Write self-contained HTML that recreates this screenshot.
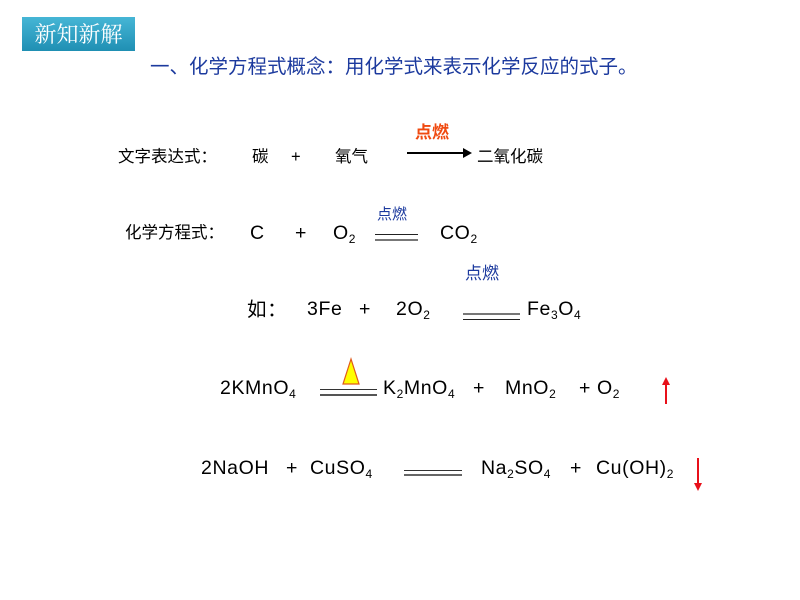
<!DOCTYPE html>
<html><head><meta charset="utf-8"><style>
body{margin:0;width:800px;height:600px;background:#fff;position:relative;overflow:hidden;font-family:"Liberation Sans","Noto Sans CJK SC",sans-serif;color:#000}
.a{position:absolute;white-space:nowrap;line-height:20px}
.f{font-size:19.5px;letter-spacing:0.6px}
.s{font-size:16.5px}
.c{font-family:"Noto Sans CJK SC",sans-serif}
sub{font-size:12px;vertical-align:-4px;line-height:0}
.dl{position:absolute;box-sizing:content-box}
</style></head><body>
<div class="a" style="left:22px;top:17px;width:113px;height:34px;line-height:34px;background:linear-gradient(#46b6d6,#1f8fb3);color:#fff;font-size:22px;font-family:'Noto Serif CJK SC',serif;text-align:center">新知新解</div>
<div class="a c" style="left:150px;top:55px;font-size:19.5px;color:#1c3a9e">一、化学方程式概念：用化学式来表示化学反应的式子。</div>

<div class="a s c" style="left:118px;top:145px">文字表达式：</div>
<div class="a s" style="left:252px;top:147px">碳</div>
<div class="a s" style="left:291px;top:147px">+</div>
<div class="a s" style="left:335px;top:147px">氧气</div>
<div class="a" style="left:415px;top:123px;font-size:17px;font-weight:bold;color:#f04a10">点燃</div>
<div style="position:absolute;left:407px;top:152px;width:58px;height:2px;background:#000"></div>
<div style="position:absolute;left:463px;top:148px;width:0;height:0;border-left:9px solid #000;border-top:5px solid transparent;border-bottom:5px solid transparent"></div>
<div class="a s" style="left:477px;top:147px">二氧化碳</div>

<div class="a s c" style="left:125px;top:221px">化学方程式：</div>
<div class="a f" style="left:250px;top:223px">C</div>
<div class="a f" style="left:295px;top:223px">+</div>
<div class="a f" style="left:333px;top:223px">O<sub>2</sub></div>
<div class="a" style="left:377px;top:205px;font-size:15px;color:#1c3a9e">点燃</div>
<div class="dl" style="left:375px;top:234px;width:43px;height:4px;border-top:1px solid #222;border-bottom:2px solid #777"></div>
<div class="a f" style="left:440px;top:223px">CO<sub>2</sub></div>

<div class="a" style="left:465px;top:264px;font-size:17px;color:#1c3a9e">点燃</div>
<div class="a f c" style="left:247px;top:298px">如：</div>
<div class="a f" style="left:307px;top:299px">3Fe</div>
<div class="a f" style="left:359px;top:299px">+</div>
<div class="a f" style="left:396px;top:299px">2O<sub>2</sub></div>
<div class="dl" style="left:463px;top:313px;width:57px;height:4px;border-top:2px solid #777;border-bottom:1px solid #222"></div>
<div class="a f" style="left:527px;top:299px">Fe<sub>3</sub>O<sub>4</sub></div>

<div class="a f" style="left:220px;top:378px">2KMnO<sub>4</sub></div>
<svg style="position:absolute;left:340px;top:356px" width="22" height="32"><polygon points="11,3 3,28 19,28" fill="#ffff00" stroke="#e05a1a" stroke-width="1.2"/></svg>
<div class="dl" style="left:320px;top:389px;width:57px;height:4px;border-top:1px solid #333;border-bottom:2px solid #555"></div>
<div class="a f" style="left:383px;top:378px">K<sub>2</sub>MnO<sub>4</sub></div>
<div class="a f" style="left:473px;top:378px">+</div>
<div class="a f" style="left:505px;top:378px">MnO<sub>2</sub></div>
<div class="a f" style="left:579px;top:378px">+ O<sub>2</sub></div>
<svg style="position:absolute;left:660px;top:376px" width="12" height="30"><line x1="6" y1="6" x2="6" y2="28" stroke="#e8101a" stroke-width="2"/><polygon points="6,1 2,9 10,9" fill="#e8101a"/></svg>

<div class="a f" style="left:201px;top:458px">2NaOH</div>
<div class="a f" style="left:286px;top:458px">+</div>
<div class="a f" style="left:310px;top:458px">CuSO<sub>4</sub></div>
<div class="dl" style="left:404px;top:470px;width:58px;height:3px;border-top:1px solid #333;border-bottom:2px solid #666"></div>
<div class="a f" style="left:481px;top:458px">Na<sub>2</sub>SO<sub>4</sub></div>
<div class="a f" style="left:570px;top:458px">+</div>
<div class="a f" style="left:596px;top:458px">Cu(OH)<sub>2</sub></div>
<svg style="position:absolute;left:692px;top:456px" width="12" height="36"><line x1="6" y1="2" x2="6" y2="28" stroke="#e8101a" stroke-width="2"/><polygon points="6,35 2,27 10,27" fill="#e8101a"/></svg>
</body></html>
